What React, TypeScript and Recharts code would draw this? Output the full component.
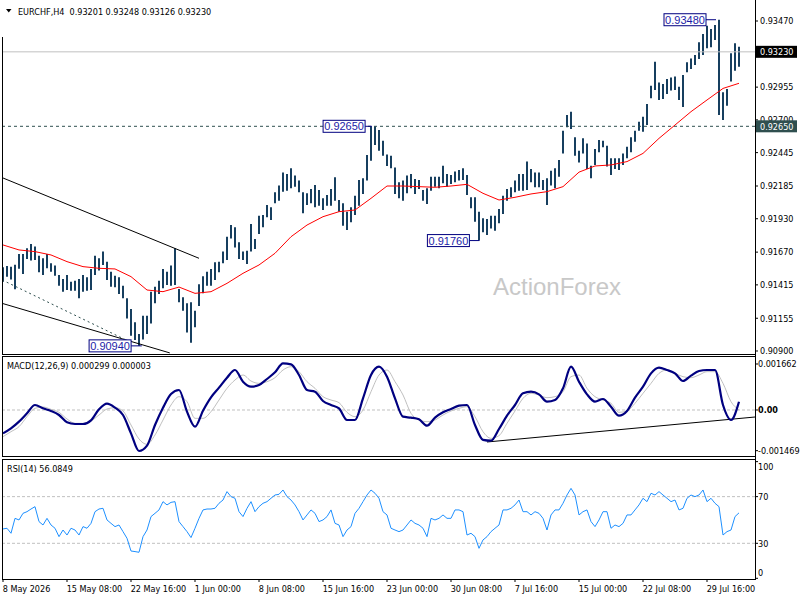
import React from "react";
import {
  ComposedChart,
  LineChart,
  Bar,
  Line,
  XAxis,
  YAxis,
  ReferenceLine,
  ReferenceDot,
} from "recharts";

// H4 bars (one entry per two bars of the original)
const barHigh = [
  0.91553, 0.91561, 0.91557, 0.91572, 0.91655, 0.91655, 0.917, 0.91733, 0.91713, 0.91642,
  0.91622, 0.91655, 0.91583, 0.91565, 0.91492, 0.91461, 0.91492, 0.9144, 0.91448, 0.91461,
  0.91492, 0.91474, 0.91539, 0.91642, 0.91622, 0.91674, 0.91596, 0.91518, 0.91487, 0.91474,
  0.91409, 0.9131, 0.91227, 0.91123, 0.91032, 0.91175, 0.91175, 0.91362, 0.91401, 0.91448,
  0.91539, 0.91518, 0.91565, 0.917, 0.91383, 0.91318, 0.91271, 0.91279, 0.91214, 0.9142,
  0.91482, 0.91518, 0.91539, 0.91591, 0.91596, 0.91674, 0.9179, 0.91881, 0.91863, 0.91746,
  0.91674, 0.91681, 0.91889, 0.91772, 0.91954, 0.91959, 0.92037, 0.92019, 0.92136, 0.92188,
  0.92291, 0.92279, 0.92323, 0.92266, 0.92227, 0.92136, 0.92128, 0.92162, 0.92193, 0.92154,
  0.92089, 0.92115, 0.92162, 0.92253, 0.92076, 0.9205, 0.91985, 0.92019, 0.9211, 0.92232,
  0.92245, 0.92427, 0.9265, 0.9265, 0.92621, 0.92538, 0.9243, 0.92421, 0.9233, 0.92214,
  0.92227, 0.92266, 0.92279, 0.9224, 0.92232, 0.92154, 0.92167, 0.92258, 0.92258, 0.92258,
  0.92343, 0.92279, 0.92271, 0.92297, 0.9231, 0.92323, 0.92271, 0.92097, 0.92097, 0.91985,
  0.91933, 0.91928, 0.91954, 0.91954, 0.92006, 0.9211, 0.92162, 0.92175, 0.92227, 0.92279,
  0.92279, 0.92375, 0.92317, 0.92291, 0.92291, 0.92232, 0.92245, 0.92304, 0.92323, 0.92388,
  0.92616, 0.92738, 0.92764, 0.92564, 0.9246, 0.92556, 0.92517, 0.92343, 0.92473, 0.92543,
  0.92538, 0.92499, 0.92401, 0.92401, 0.92401, 0.92439, 0.92491, 0.92564, 0.92616, 0.92686,
  0.92725, 0.92824, 0.92966, 0.93153, 0.92992, 0.92979, 0.93018, 0.93031, 0.93037, 0.92959,
  0.9305, 0.93148, 0.93179, 0.93205, 0.93304, 0.93369, 0.93434, 0.93408, 0.93439, 0.9348,
  0.92915, 0.92941, 0.93218, 0.93296, 0.9327,
];

const barLow = [
  0.9144, 0.91479, 0.91456, 0.9138, 0.91541, 0.915, 0.91617, 0.91604, 0.91609, 0.91513,
  0.91492, 0.91544, 0.91518, 0.91487, 0.91409, 0.91362, 0.91375, 0.9137, 0.9137, 0.9131,
  0.91362, 0.9137, 0.91375, 0.91492, 0.91526, 0.9157, 0.91453, 0.91401, 0.91396, 0.91344,
  0.9131, 0.91154, 0.91019, 0.90986, 0.9094, 0.9099, 0.91032, 0.91115, 0.91271, 0.91344,
  0.91388, 0.91414, 0.91409, 0.91414, 0.91279, 0.91214, 0.91045, 0.90965, 0.91084, 0.9125,
  0.91349, 0.91409, 0.91409, 0.91453, 0.91513, 0.91583, 0.91609, 0.91777, 0.91707, 0.91617,
  0.91609, 0.91578, 0.91674, 0.91694, 0.91811, 0.91863, 0.91941, 0.9192, 0.9205, 0.92071,
  0.92141, 0.92149, 0.92167, 0.9218, 0.92136, 0.91972, 0.92037, 0.9205, 0.92019, 0.92032,
  0.91998, 0.92032, 0.92032, 0.92071, 0.91985, 0.91876, 0.91842, 0.91902, 0.91959, 0.92032,
  0.92123, 0.92227, 0.92382, 0.92504, 0.9246, 0.92421, 0.9234, 0.92323, 0.92123, 0.92089,
  0.92071, 0.92128, 0.92167, 0.92123, 0.92162, 0.92071, 0.92045, 0.92149, 0.9218, 0.92167,
  0.92206, 0.9218, 0.92201, 0.92214, 0.92227, 0.92232, 0.92115, 0.92011, 0.91907, 0.9176,
  0.91824, 0.91803, 0.91855, 0.91837, 0.91894, 0.91967, 0.92071, 0.92097, 0.92136, 0.92149,
  0.92149, 0.92154, 0.92214, 0.92175, 0.92175, 0.92154, 0.92037, 0.92188, 0.92167, 0.92258,
  0.92439, 0.92642, 0.92629, 0.92421, 0.92369, 0.92439, 0.92317, 0.92245, 0.92349, 0.92447,
  0.92486, 0.92336, 0.92271, 0.92317, 0.9231, 0.92349, 0.92401, 0.92447, 0.9253, 0.92616,
  0.92608, 0.9266, 0.92868, 0.92933, 0.92855, 0.92863, 0.92902, 0.92928, 0.92933, 0.92855,
  0.928, 0.9307, 0.93096, 0.93127, 0.93174, 0.93205, 0.93257, 0.93265, 0.93322, 0.92738,
  0.92699, 0.92811, 0.92998, 0.93083, 0.93114,
];

// moving average, one reading every 4 entries
const maEvery4 = [
  0.91726, 0.91687, 0.91674, 0.91648, 0.91596, 0.91557, 0.91544, 0.91539, 0.91479, 0.91375,
  0.91362, 0.91398, 0.91349, 0.91362, 0.91427, 0.91505, 0.9157, 0.91661, 0.9179, 0.91881,
  0.91946, 0.91985, 0.91998, 0.92089, 0.92185, 0.92185, 0.9218, 0.92175, 0.92185, 0.92198,
  0.92128, 0.92076, 0.92097, 0.92123, 0.92141, 0.9218, 0.92293, 0.92341, 0.92349, 0.92375,
  0.92439, 0.92556, 0.9266, 0.92764, 0.92855, 0.92945, 0.92985,
];

// MACD(12,26,9), one reading every 2 entries
const macdMain = [
  -0.000843, -0.000662, -0.000421, -0.00012, 0.000181, 0.00006, -0.000036, -0.000181, -0.000445, -0.000506,
  -0.000506, -0.000373, 0.000024, 0.000229, 0.000084, -0.000181, -0.000843, -0.001481, -0.001288, -0.000542,
  0.000084, 0.000578, 0.000722, -0.00006, -0.000602, -0.000024, 0.000458, 0.000807, 0.001168, 0.001445,
  0.001023, 0.000843, 0.000903, 0.00112, 0.001361, 0.001686, 0.001649, 0.001264, 0.000722, 0.000662,
  0.000325, 0.000181, 0.00006, -0.000361, -0.000361, 0.000421, 0.001264, 0.001565, 0.001204, 0.000421,
  -0.000241, -0.000277, -0.000337, -0.000566, -0.000277, -0.000084, 0.000036, 0.000157, 0.000181, -0.000542,
  -0.00108, -0.00111, -0.000686, -0.000205, 0.000181, 0.000602, 0.000662, 0.000566, 0.000301, 0.000361,
  0.000783, 0.001565, 0.001023, 0.000566, 0.000301, 0.000397, 0.00012, -0.000205, -0.000036, 0.000445,
  0.000843, 0.001324, 0.001529, 0.001445, 0.001324, 0.001047, 0.00124, 0.001409, 0.001445, 0.001445,
  0.00018, -0.000361, 0.000299,
];

const macdSignal = [
  -0.000963, -0.000783, -0.000602, -0.000241, 0.00006, 0.000108, 0.000024, -0.000084, -0.000325, -0.000482,
  -0.000482, -0.000397, -0.000181, 0.000036, 0.000084, -0.000036, -0.000542, -0.001047, -0.00124, -0.000903,
  -0.000361, 0.000181, 0.000482, 0.000301, -0.000301, -0.000301, -0.00006, 0.000361, 0.000783, 0.001084,
  0.001264, 0.001047, 0.000963, 0.001023, 0.001168, 0.001445, 0.001565, 0.001385, 0.001023, 0.000783,
  0.000482, 0.000361, 0.000265, -0.000084, -0.000241, 0.0, 0.000662, 0.001264, 0.001445, 0.001023,
  0.000542, -0.00012, -0.000361, -0.000421, -0.000361, -0.000181, -0.000036, 0.00006, 0.00012, -0.000241,
  -0.000783, -0.001023, -0.000927, -0.000482, -0.000036, 0.000421, 0.000602, 0.000542, 0.000445, 0.000482,
  0.000662, 0.001204, 0.001264, 0.000783, 0.000482, 0.000361, 0.000241, -0.000084, -0.000036, 0.000241,
  0.000602, 0.000963, 0.001324, 0.001445, 0.001324, 0.001204, 0.001168, 0.001264, 0.001385, 0.001385,
  0.000963, 0.000301, 0.000003,
];

const rsi14 = [
  42.3, 42.9, 38.6, 51.4, 50.0, 55.7, 57.1, 59.4, 61.4, 48.6,
  45.7, 51.4, 45.7, 42.9, 35.7, 41.4, 37.1, 42.9, 41.4, 37.1,
  44.3, 42.9, 47.1, 57.1, 59.4, 60.0, 50.0, 47.1, 44.3, 45.7,
  40.0, 34.3, 23.4, 22.9, 22.3, 35.7, 41.4, 52.9, 55.7, 58.6,
  65.7, 62.9, 65.1, 65.7, 48.6, 44.3, 40.0, 34.9, 42.9, 51.4,
  58.6, 59.4, 59.4, 60.0, 64.3, 67.1, 74.3, 70.0, 68.6, 57.1,
  52.9, 60.0, 65.7, 57.1, 61.4, 64.3, 65.7, 68.6, 71.4, 72.0,
  75.7, 70.0, 67.1, 62.9, 57.1, 50.0, 54.3, 58.6, 55.7, 48.6,
  50.0, 52.9, 58.6, 47.1, 45.7, 35.7, 41.4, 44.3, 55.7, 60.0,
  65.7, 71.4, 75.7, 72.9, 68.6, 57.1, 54.3, 42.9, 41.4, 40.0,
  41.4, 45.7, 50.0, 47.1, 45.7, 42.9, 35.7, 51.4, 50.0, 51.4,
  54.3, 51.4, 51.4, 58.6, 58.6, 57.1, 37.1, 38.6, 35.7, 25.7,
  32.9, 35.7, 40.0, 42.9, 45.7, 58.6, 58.6, 60.0, 62.9, 67.1,
  57.1, 57.1, 54.3, 57.1, 55.7, 51.4, 41.4, 54.3, 58.6, 58.6,
  64.3, 71.4, 77.1, 71.4, 54.3, 57.1, 58.6, 48.6, 44.3, 50.0,
  57.1, 57.1, 42.9, 45.7, 44.3, 47.1, 54.3, 54.3, 58.6, 62.9,
  68.6, 65.7, 72.9, 71.4, 74.3, 71.4, 68.6, 65.7, 67.1, 58.6,
  60.0, 68.6, 71.4, 70.0, 71.4, 75.7, 65.7, 68.6, 64.3, 61.4,
  37.1, 40.0, 41.4, 52.9, 56.1,
];

const timeLabels = [
  "8 May 2026", "15 May 08:00", "22 May 16:00", "1 Jun 00:00", "8 Jun 08:00", "15 Jun 16:00",
  "23 Jun 00:00", "30 Jun 08:00", "7 Jul 16:00", "15 Jul 00:00", "22 Jul 08:00", "29 Jul 16:00",
];

const priceTicks = [0.9347, 0.92955, 0.927, 0.92445, 0.92185, 0.9193, 0.9167, 0.91415, 0.91155, 0.909, 0.9265, 0.9323];
const macdTicks = [0.001662, 0, -0.001469];
const rsiTicks = [100, 70, 30, 0];

const symbol = "EURCHF,H4";
const lastBar = [0.93201, 0.93248, 0.93126, 0.9323];
const lastClose = 0.9323;
const resistance = 0.9265;
const lastMacd = [0.000299, 0.000003];
const lastRsi = 56.0849;

// hand drawn lines as [entry, value] pairs
const channelTop = [[-0.2, 0.9225], [49, 0.91622]];
const channelBottom = [[-0.2, 0.91271], [41.7, 0.90885]];
const channelMid = [[-0.2, 0.91453], [31.8, 0.9097]];
const macdSupport = [[121, -0.001156], [188, -0.000253]];

// swing tags: anchor entry and price
const swingBars = [178.25, 92.2, 119.1, 34.7];
const swingPrices = [0.9348, 0.9265, 0.9176, 0.9094];

const priceRows = barHigh.map((h, i) => ({
  bar: i,
  range: [barLow[i], h],
  ma: i % 4 === 0 ? maEvery4[i / 4] : null,
}));
const macdRows = macdMain.map((m, k) => ({ bar: k * 2, macd: m, signal: macdSignal[k] }));
const rsiRows = rsi14.map((r, i) => ({ bar: i, rsi: r }));

const X_DOMAIN: [number, number] = [-0.25, 188];
const AXIS_FONT = "'DejaVu Sans Condensed', 'DejaVu Sans', sans-serif";
const seg = (p: number[][]) => p.map(([x, y]) => ({ x, y }));

function PriceTick(props: any) {
  const { x, y, payload } = props;
  const v: number = payload.value;
  const text = v.toFixed(5);
  if (v === lastClose || v === resistance) {
    return (
      <g>
        <rect x={x + 1} y={y - 6} width={41} height={12} fill={v === lastClose ? "#000" : "#2f4f4f"} />
        <text x={x + 5} y={y + 3.3} fontSize={9} fontFamily={AXIS_FONT} fontStretch="condensed" fill="#fff">
          {text}
        </text>
      </g>
    );
  }
  return (
    <g>
      <line x1={x} x2={x + 3} y1={y} y2={y} stroke="#000" />
      <text x={x + 5} y={y + 3.3} fontSize={9} fontFamily={AXIS_FONT} fontStretch="condensed" fill="#000">
        {text}
      </text>
    </g>
  );
}

function MacdTick(props: any) {
  const { x, y, payload } = props;
  const v: number = payload.value;
  const text = v === 0 ? "0.00" : v.toFixed(6);
  return (
    <g>
      <line x1={x} x2={x + 3} y1={y} y2={y} stroke="#000" />
      <text x={x + 3} y={y + 3.3} fontSize={9} fontFamily={AXIS_FONT} fontStretch="condensed"
        fontWeight={v === 0 ? "bold" : "normal"} fill="#000">
        {text}
      </text>
    </g>
  );
}

function RsiTick(props: any) {
  const { x, y, payload } = props;
  const v: number = payload.value;
  // top and bottom labels are pushed inside the panel
  const ty = v === 100 ? y + 5 : v === 0 ? y - 5.6 : y;
  return (
    <g>
      <line x1={x} x2={x + 3} y1={y} y2={y} stroke="#000" />
      <text x={x + 3} y={ty + 3.3} fontSize={9} fontFamily={AXIS_FONT} fontStretch="condensed" fill="#000">
        {v}
      </text>
    </g>
  );
}

function TimeTick(props: any) {
  const { x, y, payload } = props;
  return (
    <g>
      <line x1={x} x2={x} y1={y} y2={y + 3} stroke="#000" />
      <text x={x - 0.3} y={y + 12.6} fontSize={9} fontFamily={AXIS_FONT} fontStretch="condensed" fill="#000">
        {timeLabels[payload.value / 16]}
      </text>
    </g>
  );
}

function SwingTag(props: any) {
  const { cx, cy, text, gap } = props;
  const right = cx - gap;
  return (
    <g>
      <line x1={right} y1={cy} x2={cx} y2={cy} stroke="#000080" />
      <rect x={right - 42} y={cy - 6} width={42} height={12} fill="#fff" stroke="#000080" />
      <text x={right - 21} y={cy + 4} textAnchor="middle" fontSize={11}
        fontFamily="'Liberation Sans', Arial, sans-serif" fill="#1c1ca8">
        {text}
      </text>
    </g>
  );
}

const swingGaps = [10, 6.7, 10, 10.7];

export default function App() {
  return (
    <div style={{ position: "absolute", left: 0, top: 0, width: 800, height: 600, background: "#fff", overflow: "hidden" }}>
      <div style={{ position: "absolute", left: 0, top: 0 }}>
        <ComposedChart width={800} height={355} data={priceRows} margin={{ top: 3, right: 0, bottom: 1, left: 2 }}>
          <XAxis dataKey="bar" type="number" domain={X_DOMAIN} allowDataOverflow hide />
          <YAxis
            orientation="right"
            width={45}
            type="number"
            domain={[0.908766, 0.936103]}
            allowDataOverflow
            ticks={priceTicks}
            interval={0}
            tick={PriceTick}
            tickSize={0}
            tickMargin={0}
            tickLine={false}
            axisLine={false}
          />
          <ReferenceLine y={lastClose} stroke="#c0c0c0" />
          <ReferenceLine y={resistance} stroke="#2f4f4f" strokeDasharray="3 3" />
          <ReferenceLine segment={seg(channelTop)} stroke="#000" />
          <ReferenceLine segment={seg(channelBottom)} stroke="#000" />
          <ReferenceLine segment={seg(channelMid)} stroke="#2f4f4f" strokeDasharray="2 3" />
          <Bar dataKey="range" barSize={2} fill="#173f5f" isAnimationActive={false} />
          <Line dataKey="ma" type="linear" stroke="#ff0000" strokeWidth={1} dot={false} connectNulls isAnimationActive={false} />
          {swingPrices.map((p, i) => (
            <ReferenceDot
              key={p}
              x={swingBars[i]}
              y={p}
              r={0}
              shape={(sp: any) => <SwingTag {...sp} text={p.toFixed(5)} gap={swingGaps[i]} />}
            />
          ))}
        </ComposedChart>
      </div>

      <div style={{ position: "absolute", left: 0, top: 357 }}>
        <LineChart width={800} height={100} data={macdRows} margin={{ top: 0, right: 0, bottom: 0, left: 2 }}>
          <XAxis dataKey="bar" type="number" domain={X_DOMAIN} allowDataOverflow hide />
          <YAxis
            orientation="right"
            width={45}
            type="number"
            domain={[-0.001698, 0.0019147]}
            allowDataOverflow
            ticks={macdTicks}
            interval={0}
            tick={MacdTick}
            tickSize={0}
            tickMargin={0}
            tickLine={false}
            axisLine={false}
          />
          <ReferenceLine y={0} stroke="#c0c0c0" strokeDasharray="3 2" />
          <ReferenceLine segment={seg(macdSupport)} stroke="#000" />
          <Line dataKey="signal" type="monotone" stroke="#c0c0c0" strokeWidth={1} dot={false} isAnimationActive={false} />
          <Line dataKey="macd" type="monotone" stroke="#000080" strokeWidth={2.2} dot={false} isAnimationActive={false} />
        </LineChart>
      </div>

      <div style={{ position: "absolute", left: 0, top: 459 }}>
        <LineChart width={800} height={141} data={rsiRows} margin={{ top: 0, right: 0, bottom: 0, left: 2 }}>
          <XAxis
            dataKey="bar"
            type="number"
            domain={X_DOMAIN}
            allowDataOverflow
            height={21}
            ticks={timeLabels.map((_, k) => k * 16)}
            interval={0}
            tick={TimeTick}
            tickSize={0}
            tickMargin={0}
            tickLine={false}
            axisLine={false}
          />
          <YAxis
            orientation="right"
            width={45}
            type="number"
            domain={[-0.6, 102.26]}
            allowDataOverflow
            ticks={rsiTicks}
            interval={0}
            tick={RsiTick}
            tickSize={0}
            tickMargin={0}
            tickLine={false}
            axisLine={false}
          />
          <ReferenceLine y={70} stroke="#c0c0c0" strokeDasharray="3 2" />
          <ReferenceLine y={30} stroke="#c0c0c0" strokeDasharray="3 2" />
          <Line dataKey="rsi" type="linear" stroke="#1e90ff" strokeWidth={1} dot={false} isAnimationActive={false} />
        </LineChart>
      </div>

      <svg width={800} height={600} style={{ position: "absolute", left: 0, top: 0, pointerEvents: "none" }}>
        <g stroke="#000" strokeWidth={1} shapeRendering="crispEdges">
          <line x1={755.5} y1={0} x2={755.5} y2={580} />
          <line x1={2.5} y1={37} x2={2.5} y2={354.5} />
          <line x1={2.5} y1={356.5} x2={2.5} y2={456.5} />
          <line x1={2.5} y1={459.5} x2={2.5} y2={579.5} />
          <line x1={2} y1={354.5} x2={756} y2={354.5} />
          <line x1={2} y1={356.5} x2={756} y2={356.5} />
          <line x1={2} y1={456.5} x2={756} y2={456.5} />
          <line x1={2} y1={459.5} x2={756} y2={459.5} />
          <line x1={2} y1={579.5} x2={756} y2={579.5} />
        </g>
        <polygon points="6,9 11.5,9 8.75,12.5" fill="#000" />
        <text x={18} y={14.5} fontSize={9} fontFamily={AXIS_FONT} fontStretch="condensed" fill="#000" style={{ whiteSpace: "pre" }}>
          {`${symbol}  ${lastBar.map((v) => v.toFixed(5)).join(" ")}`}
        </text>
        <text x={7} y={369} fontSize={9} fontFamily={AXIS_FONT} fontStretch="condensed" fill="#000">
          {`MACD(12,26,9) ${lastMacd.map((v) => v.toFixed(6)).join(" ")}`}
        </text>
        <text x={7} y={471.5} fontSize={9} fontFamily={AXIS_FONT} fontStretch="condensed" fill="#000">
          {`RSI(14) ${lastRsi.toFixed(4)}`}
        </text>
        <text x={493} y={294.5} fontSize={24} fontFamily="'Liberation Sans', Arial, sans-serif" fill="#c8c8c8">
          ActionForex
        </text>
      </svg>
    </div>
  );
}
